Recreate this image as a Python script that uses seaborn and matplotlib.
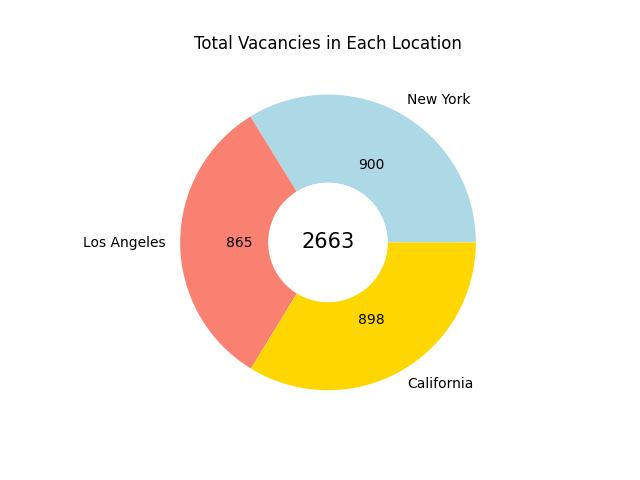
import matplotlib
matplotlib.use("Agg")
import matplotlib.pyplot as plt
import seaborn as sns

locations = ["New York", "Los Angeles", "California"]
vacancies = [900, 865, 898]
colors = sns.color_palette(["lightblue", "salmon", "gold"])

total = sum(vacancies)

fig, ax = plt.subplots(figsize=(6.4, 4.8), dpi=100)
ax.pie(vacancies, labels=locations, colors=colors,
       autopct=lambda p: f"{round(p * total / 100)}")
# white circle in the middle for the donut look
centre = plt.Circle((0, 0), 0.4, color="white")
ax.add_artist(centre)
ax.text(0, 0, str(total), ha="center", va="center", fontsize=15)
ax.set_title("Total Vacancies in Each Location")
plt.savefig("out.png")
plt.close()
